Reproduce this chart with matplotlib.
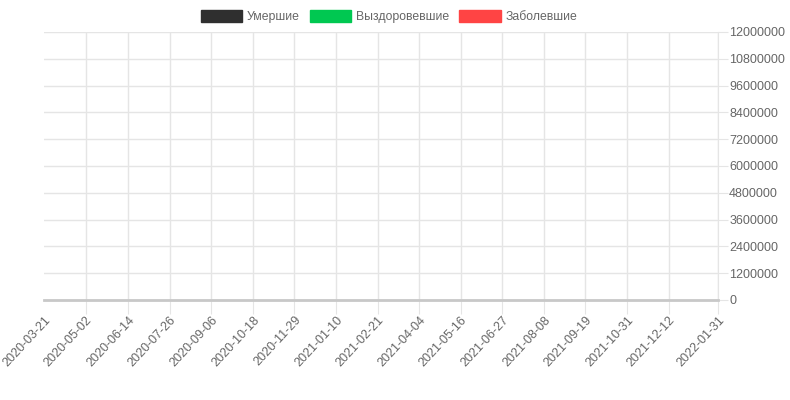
import matplotlib
matplotlib.use("Agg")
import matplotlib.pyplot as plt
import matplotlib.dates as mdates
from matplotlib.patches import Patch
import datetime as dt

plt.rcParams["font.family"] = ["Liberation Sans", "DejaVu Sans"]

tick_dates = [
    "2020-03-21", "2020-05-02", "2020-06-14", "2020-07-26", "2020-09-06",
    "2020-10-18", "2020-11-29", "2021-01-10", "2021-02-21", "2021-04-04",
    "2021-05-16", "2021-06-27", "2021-08-08", "2021-09-19", "2021-10-31",
    "2021-12-12", "2022-01-31",
]
y_ticks = [0, 1200000, 2400000, 3600000, 4800000, 6000000,
           7200000, 8400000, 9600000, 10800000, 12000000]

series_names = ["Умершие", "Выздоровевшие", "Заболевшие"]
series_colors = ["#2f2f2f", "#00c851", "#ff4444"]
# no points are visible in the reference, so the series are empty
series_dates = [[], [], []]
series_values = [[], [], []]

dates = [dt.datetime.strptime(d, "%Y-%m-%d") for d in tick_dates]

fig = plt.figure(figsize=(7.9, 4.0), dpi=100)
ax = fig.add_axes([44 / 790, 1 - 300 / 400, (718 - 44) / 790, (300 - 32) / 400])

for name, color, xs, ys in zip(series_names, series_colors, series_dates, series_values):
    ax.plot([dt.datetime.strptime(d, "%Y-%m-%d") for d in xs], ys, color=color, lw=2)

ax.set_xlim(dates[0], dates[-1])
ax.set_xticks(dates)
ax.xaxis.set_major_formatter(mdates.DateFormatter("%Y-%m-%d"))
ax.set_ylim(0, 12000000)
ax.set_yticks(y_ticks)
ax.set_yticklabels([str(v) for v in y_ticks])

ax.yaxis.tick_right()
ax.grid(True, color="#e5e5e5", lw=1)
for s in ["top", "left"]:
    ax.spines[s].set_visible(False)
ax.spines["right"].set_color("#e5e5e5")
ax.spines["bottom"].set_color("#c8c8c8")
ax.spines["bottom"].set_linewidth(2)
ax.tick_params(axis="both", colors="#e5e5e5", labelcolor="#666666", labelsize=9)
ax.tick_params(axis="x", length=10, pad=0)
ax.tick_params(axis="y", length=7, pad=1)
ax.xaxis.get_gridlines()[0].set_visible(False)
ax.xaxis.get_major_ticks()[0].tick1line.set_visible(False)
for lbl in ax.get_xticklabels():
    lbl.set_rotation(47)
    lbl.set_ha("right")
    lbl.set_rotation_mode("anchor")

handles = [Patch(facecolor=c, edgecolor=c) for c in series_colors]
leg = fig.legend(handles, series_names, loc="upper center", bbox_to_anchor=(0.4924, 1.0),
                 ncol=3, frameon=False, fontsize=8.8, handlelength=3.4, handleheight=1.15,
                 handletextpad=0.4, columnspacing=0.8, borderaxespad=0.4)
for t in leg.get_texts():
    t.set_color("#666666")

fig.savefig("out.png", dpi=100)
